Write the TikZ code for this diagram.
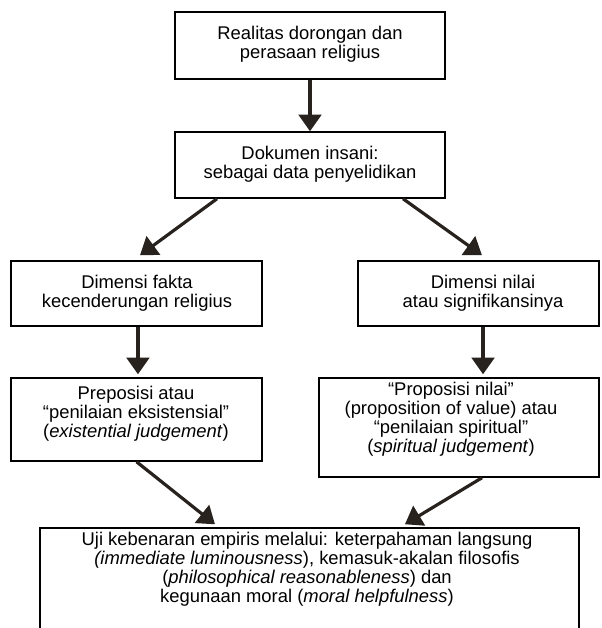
\documentclass[tikz,border=0pt]{standalone}
\usepackage{fontspec}
\setmainfont{Liberation Sans}
\usetikzlibrary{arrows.meta}
\definecolor{arrc}{RGB}{40,34,30}
\begin{document}
\begin{tikzpicture}[x=0.75pt,y=-0.75pt,
  box/.style={draw=black,line width=1.1pt,inner sep=0pt,fill=white},
  txt/.style={align=center,inner sep=0pt,font=\fontsize{13.8pt}{14.3pt}\selectfont},
  arr/.style={draw=arrc,line width=2.4pt,-{Triangle[length=12.5pt,width=17pt]}}]
\clip (0,0) rectangle (601,628);
\useasboundingbox (0,0) rectangle (601,628);
% boxes
\node[box,minimum width=202.5pt,minimum height=50.25pt] (b1) at (310,45.5) {};
\node[box,minimum width=202.5pt,minimum height=49.5pt] (b2) at (310,165) {};
\node[box,minimum width=188.25pt,minimum height=48.75pt] (b3) at (136.5,293.5) {};
\node[box,minimum width=180.75pt,minimum height=48.75pt] (b4) at (478.5,293.5) {};
\node[box,minimum width=188.25pt,minimum height=62.25pt] (b5) at (136.5,419.5) {};
\node[box,minimum width=210pt,minimum height=74.25pt] (b6) at (459,427.5) {};
\node[box,minimum width=404.25pt,minimum height=91.5pt] (b7) at (309.5,589) {};
% texts
\node[txt] (t1) at (310,44.5) {Realitas dorongan dan\\perasaan religius};
\node[txt] (t2) at (310,164.5) {Dokumen insani:\\sebagai data penyelidikan};
\node[txt] (t3) at (137,293) {Dimensi fakta\\kecenderungan religius};
\node[txt] (t4) at (483,293) {Dimensi nilai\\atau signifikansinya};
\node[txt] (t5) at (136,413.5) {Preposisi atau\\“penilaian eksistensial”\\(\textit{existential judgement})};
\node[txt] (t6) at (451,419) {“Proposisi nilai”\\(proposition of value) atau\\“penilaian spiritual”\\(\textit{spiritual judgement})};
\node[txt] (t7) at (307,569.5) {Uji kebenaran empiris melalui: keterpahaman langsung\\\textit{(immediate luminousness}), kemasuk-akalan filosofis\\(\textit{philosophical reasonableness}) dan\\kegunaan moral (\textit{moral helpfulness})};
% connectors
\draw[arr] (b1.south) -- (b2.north);
\draw[arr] ([xshift=-69.75pt]b2.south) -- ([xshift=2.6pt,yshift=3.75pt]b3.north);
\draw[arr] ([xshift=69.75pt]b2.south) -- ([xshift=2.6pt,yshift=3.75pt]b4.north);
\draw[arr] ([xshift=1.1pt]b3.south) -- ([xshift=1.1pt,yshift=2.25pt]b5.north);
\draw[arr] ([xshift=3.4pt]b4.south) -- ([xshift=3.4pt,yshift=2.25pt]b4.south |- b6.north);
\draw[arr] (b5.south) -- ([xshift=-70.9pt,yshift=2.25pt]b7.north);
\draw[arr] ([xshift=17.25pt]b6.south) -- ([xshift=71.6pt,yshift=2.25pt]b7.north);
\end{tikzpicture}
\end{document}
